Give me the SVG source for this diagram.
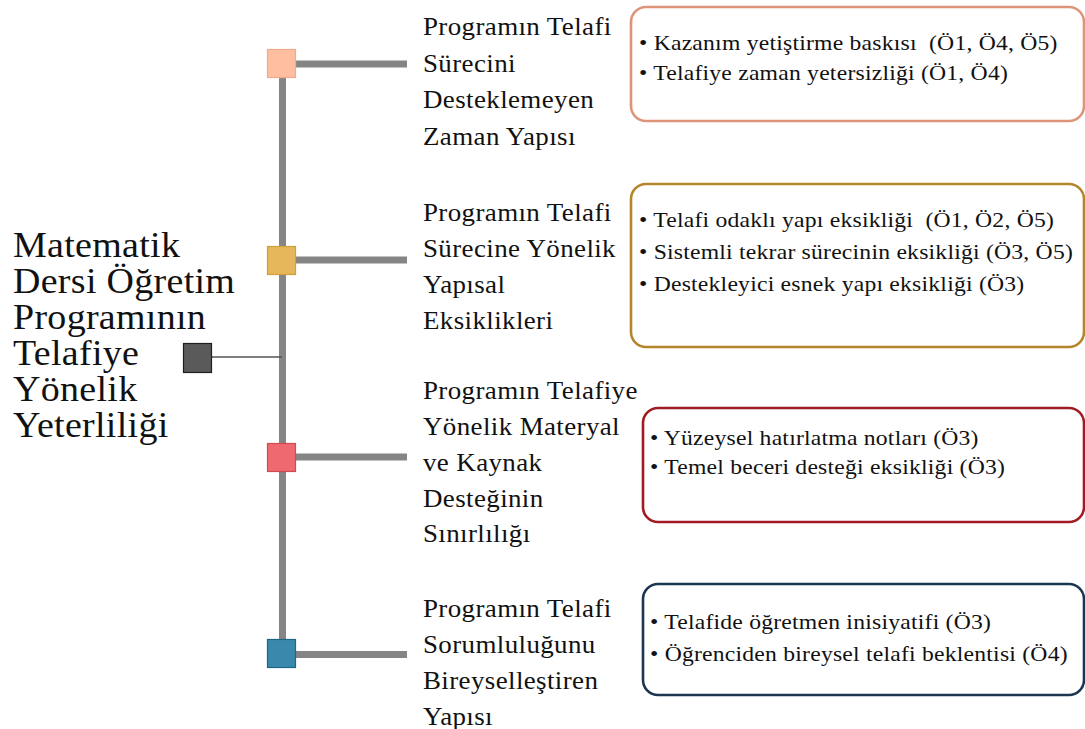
<svg xmlns="http://www.w3.org/2000/svg" width="1085" height="729" viewBox="0 0 1085 729">
<style>
text{font-family:'Liberation Serif','Times New Roman',serif;fill:#111}
.main{font-size:36.5px;letter-spacing:0.3px}
.ttl{font-size:24.5px;letter-spacing:0.35px}
.itm{font-size:21.5px;letter-spacing:0.2px}
.box{fill:#fff;stroke-width:2.6}
.bar{stroke:#858585;stroke-width:7;fill:none}
.sq{stroke-width:1.2}
</style>
<rect width="1085" height="729" fill="#fff"/>
<g id="connectors">
<line class="bar" x1="282.5" y1="70" x2="282.5" y2="645"/>
<line class="bar" x1="290" y1="64" x2="407" y2="64"/>
<line class="bar" x1="290" y1="260" x2="407" y2="260"/>
<line class="bar" x1="290" y1="457" x2="407" y2="457"/>
<line class="bar" x1="290" y1="654.5" x2="407" y2="654.5"/>
<line x1="211" y1="357" x2="282" y2="357" stroke="#555" stroke-width="1.4"/>
</g>
<g id="root">
<rect class="sq" x="183.5" y="343.5" width="28" height="29" fill="#5a5a5a" stroke="#1e1e1e"/>
<text class="main" transform="translate(13 0) scale(1.04 1)"><tspan x="0" y="257">Matematik</tspan><tspan x="0" y="293">Dersi Öğretim</tspan><tspan x="0" y="329">Programının</tspan><tspan x="0" y="365">Telafiye</tspan><tspan x="0" y="401">Yönelik</tspan><tspan x="0" y="437">Yeterliliği</tspan></text>
</g>
<g id="n1">
<rect class="sq" x="267.5" y="49.5" width="28" height="28" fill="#FFBEA0" stroke="#F2A88C"/>
<text class="ttl" transform="translate(423 0) scale(1.1 1)"><tspan x="0" y="35">Programın Telafi</tspan><tspan x="0" y="72">Sürecini</tspan><tspan x="0" y="108">Desteklemeyen</tspan><tspan x="0" y="145">Zaman Yapısı</tspan></text>
<rect class="box" x="631" y="7" width="453" height="114" rx="15" stroke="#DE9479"/>
<text class="itm" xml:space="preserve" transform="translate(639 0) scale(1.1 1)"><tspan x="0" y="50">• Kazanım yetiştirme baskısı  (Ö1, Ö4, Ö5)</tspan><tspan x="0" y="80">• Telafiye zaman yetersizliği (Ö1, Ö4)</tspan></text>
</g>
<g id="n2">
<rect class="sq" x="267.5" y="246.5" width="28" height="28" fill="#E6B65A" stroke="#CF9E3E"/>
<text class="ttl" transform="translate(423 0) scale(1.1 1)"><tspan x="0" y="221">Programın Telafi</tspan><tspan x="0" y="257">Sürecine Yönelik</tspan><tspan x="0" y="293">Yapısal</tspan><tspan x="0" y="329">Eksiklikleri</tspan></text>
<rect class="box" x="631" y="184" width="453" height="163" rx="15" stroke="#B5852B"/>
<text class="itm" xml:space="preserve" transform="translate(639 0) scale(1.1 1)"><tspan x="0" y="227">• Telafi odaklı yapı eksikliği  (Ö1, Ö2, Ö5)</tspan><tspan x="0" y="259">• Sistemli tekrar sürecinin eksikliği (Ö3, Ö5)</tspan><tspan x="0" y="291">• Destekleyici esnek yapı eksikliği (Ö3)</tspan></text>
</g>
<g id="n3">
<rect class="sq" x="267.5" y="443.5" width="28" height="28" fill="#EE6A70" stroke="#CF4A52"/>
<text class="ttl" transform="translate(423 0) scale(1.1 1)"><tspan x="0" y="399">Programın Telafiye</tspan><tspan x="0" y="435">Yönelik Materyal</tspan><tspan x="0" y="471">ve Kaynak</tspan><tspan x="0" y="507">Desteğinin</tspan><tspan x="0" y="542">Sınırlılığı</tspan></text>
<rect class="box" x="643" y="408" width="441" height="114" rx="15" stroke="#A11B24"/>
<text class="itm" transform="translate(650 0) scale(1.1 1)"><tspan x="0" y="445">• Yüzeysel hatırlatma notları (Ö3)</tspan><tspan x="0" y="474">• Temel beceri desteği eksikliği (Ö3)</tspan></text>
</g>
<g id="n4">
<rect class="sq" x="267.5" y="639.5" width="28" height="28" fill="#3A89AD" stroke="#1E6687"/>
<text class="ttl" transform="translate(423 0) scale(1.1 1)"><tspan x="0" y="617">Programın Telafi</tspan><tspan x="0" y="653">Sorumluluğunu</tspan><tspan x="0" y="689">Bireyselleştiren</tspan><tspan x="0" y="725">Yapısı</tspan></text>
<rect class="box" x="643" y="584" width="441" height="111" rx="15" stroke="#1C3550"/>
<text class="itm" transform="translate(650 0) scale(1.1 1)"><tspan x="0" y="629">• Telafide öğretmen inisiyatifi (Ö3)</tspan><tspan x="0" y="661">• Öğrenciden bireysel telafi beklentisi (Ö4)</tspan></text>
</g>
</svg>
